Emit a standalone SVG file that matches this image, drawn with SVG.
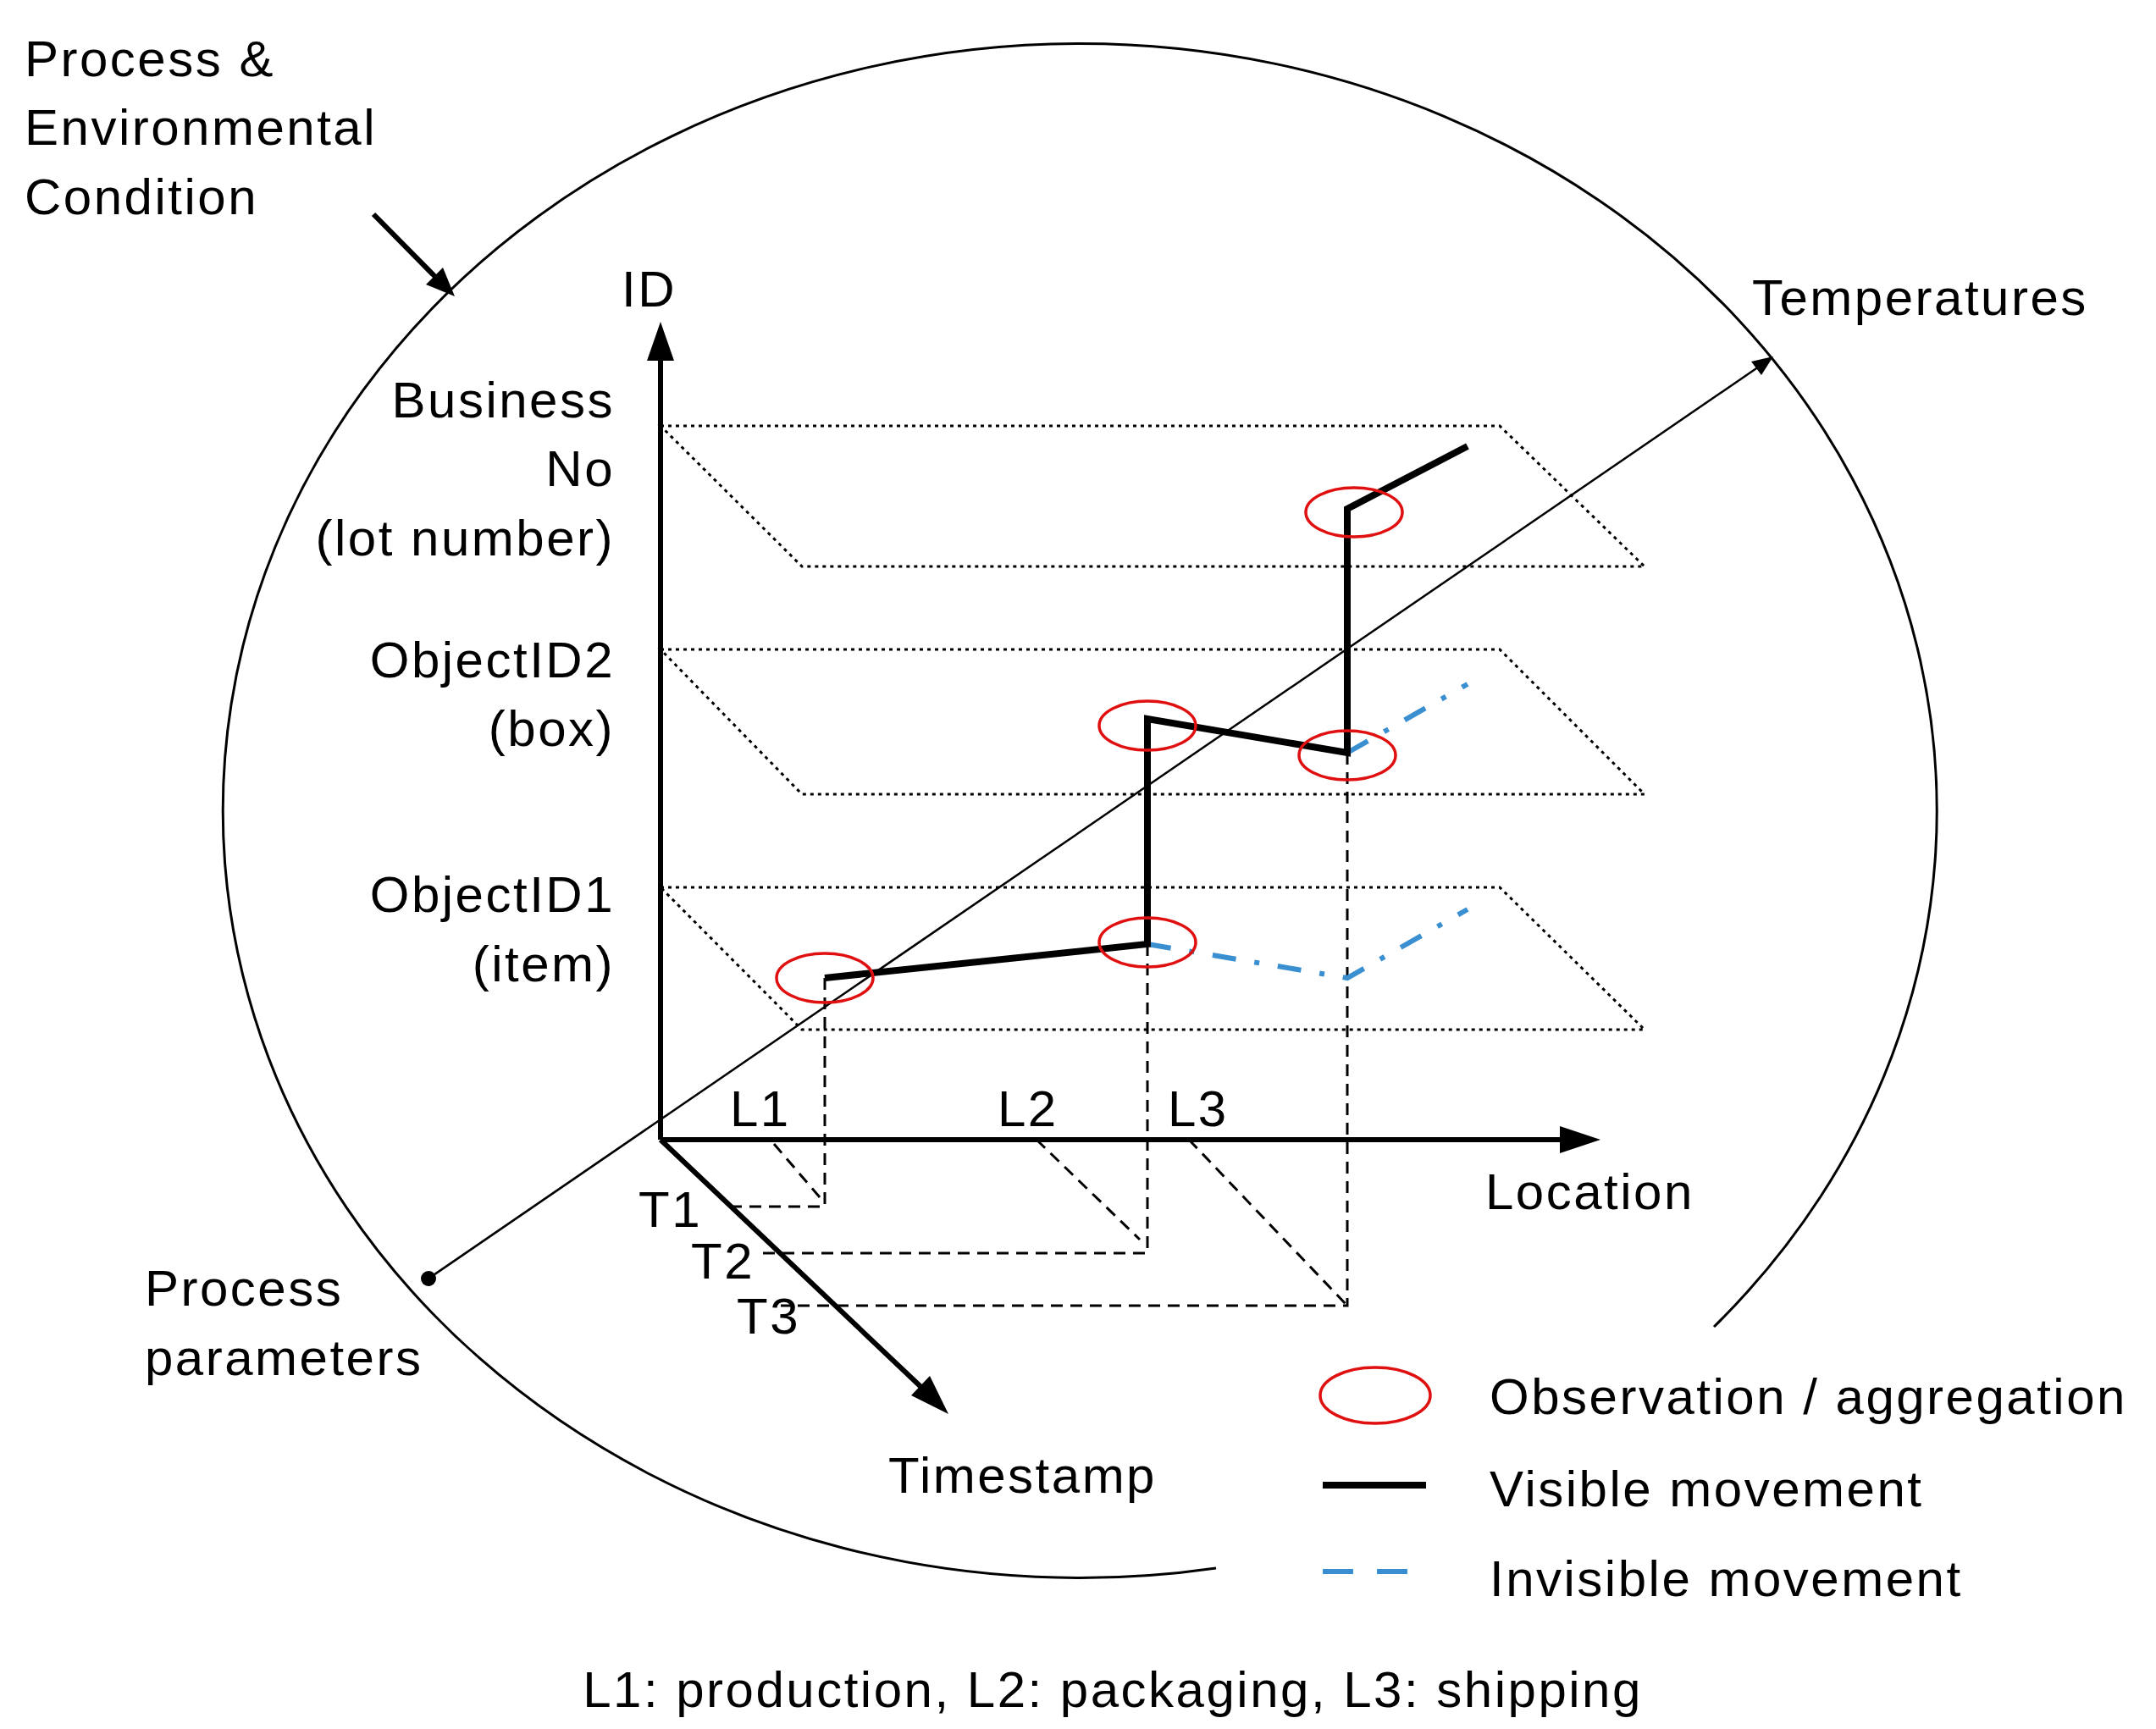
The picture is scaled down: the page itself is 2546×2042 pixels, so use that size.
<svg xmlns="http://www.w3.org/2000/svg" width="2546" height="2042" viewBox="0 0 2546 2042">
<style>
text{font-family:"Liberation Sans",Arial,sans-serif;font-size:60px;letter-spacing:2.5px;fill:#000}
.r{text-anchor:end}
.plane{fill:none;stroke:#000;stroke-width:3;stroke-dasharray:4 5}
.drop{fill:none;stroke:#000;stroke-width:3;stroke-dasharray:14 9}
.obs{fill:none;stroke:#e01010;stroke-width:3.5}
.vis{fill:none;stroke:#000;stroke-width:8;stroke-linejoin:miter}
.inv{fill:none;stroke:#3a8fd0;stroke-width:6;stroke-dasharray:28 22 6 22}
.axis{stroke:#000;stroke-width:6;fill:none}
</style>
<rect width="2546" height="2042" fill="#fff"/>
<g id="boundary"><path d="M2024 1567 A1012 906 0 1 0 1436 1852" fill="none" stroke="#000" stroke-width="3"/></g>
<g id="planes">
<polygon class="plane" points="780,503 1771,503 1942,669 947,669"/>
<polygon class="plane" points="780,767 1771,767 1942,938 947,938"/>
<polygon class="plane" points="780,1048 1771,1048 1942,1216 947,1216"/>
</g>
<g id="connectors">
<line x1="506" y1="1510" x2="2080" y2="431" stroke="#000" stroke-width="2.5"/>
<polygon points="2094,421 2068,427 2080,443" fill="#000"/>
<circle cx="506" cy="1510" r="9" fill="#000"/>
<line x1="441" y1="253" x2="520" y2="333" stroke="#000" stroke-width="6"/>
<polygon points="537,350 503,336 523,316" fill="#000"/>
<line class="axis" x1="780" y1="1346" x2="780" y2="420"/>
<polygon points="780,380 764,426 796,426" fill="#000"/>
<line class="axis" x1="780" y1="1346" x2="1850" y2="1346"/>
<polygon points="1890,1346 1842,1330 1842,1362" fill="#000"/>
<line class="axis" x1="780" y1="1346" x2="1095" y2="1645"/>
<polygon points="1120,1670 1076,1648 1098,1625" fill="#000"/>
<path class="drop" d="M974 1155 V1425 H857"/>
<path class="drop" d="M1355 1115 V1480 H894"/>
<path class="drop" d="M1591 889 V1542 H922"/>
<line class="drop" x1="914" y1="1351" x2="974" y2="1421"/>
<line class="drop" x1="1224" y1="1346" x2="1346" y2="1464"/>
<line class="drop" x1="1404" y1="1346" x2="1591" y2="1542"/>
<path class="inv" d="M1355 1115 L1591 1155 L1733 1074"/>
<path class="inv" d="M1591 889 L1733 808"/>
<path class="vis" d="M974 1155 L1355 1115 L1355 849 L1591 889 L1591 601 L1733 527"/>
</g>
<g id="observations">
<ellipse class="obs" cx="974" cy="1155" rx="57" ry="29"/>
<ellipse class="obs" cx="1355" cy="1113" rx="57" ry="29"/>
<ellipse class="obs" cx="1355" cy="857" rx="57" ry="29"/>
<ellipse class="obs" cx="1591" cy="892" rx="57" ry="29"/>
<ellipse class="obs" cx="1599" cy="605" rx="57" ry="29"/>
</g>
<g id="labels">
<text x="29" y="90">Process &amp;</text>
<text x="29" y="171">Environmental</text>
<text x="29" y="253">Condition</text>
<text x="734" y="362">ID</text>
<text x="2069" y="372">Temperatures</text>
<text class="r" x="726" y="493">Business</text>
<text class="r" x="726" y="574">No</text>
<text class="r" x="726" y="656">(lot number)</text>
<text class="r" x="726" y="800">ObjectID2</text>
<text class="r" x="726" y="881">(box)</text>
<text class="r" x="726" y="1077">ObjectID1</text>
<text class="r" x="726" y="1159">(item)</text>
<text x="862" y="1330">L1</text>
<text x="1178" y="1330">L2</text>
<text x="1379" y="1330">L3</text>
<text x="1754" y="1428">Location</text>
<text x="754" y="1449">T1</text>
<text x="816" y="1510">T2</text>
<text x="870" y="1575">T3</text>
<text x="171" y="1542">Process</text>
<text x="171" y="1624">parameters</text>
<text x="1049" y="1763">Timestamp</text>
</g>
<g id="legend">
<ellipse class="obs" cx="1624" cy="1648" rx="65" ry="33"/>
<text x="1759" y="1670">Observation / aggregation</text>
<line x1="1562" y1="1754" x2="1684" y2="1754" stroke="#000" stroke-width="8"/>
<text x="1759" y="1779">Visible movement</text>
<line x1="1562" y1="1856" x2="1684" y2="1856" stroke="#3a8fd0" stroke-width="6" stroke-dasharray="36 28"/>
<text x="1759" y="1885">Invisible movement</text>
<text x="1314" y="2016" text-anchor="middle">L1: production, L2: packaging, L3: shipping</text>
</g>
</svg>
